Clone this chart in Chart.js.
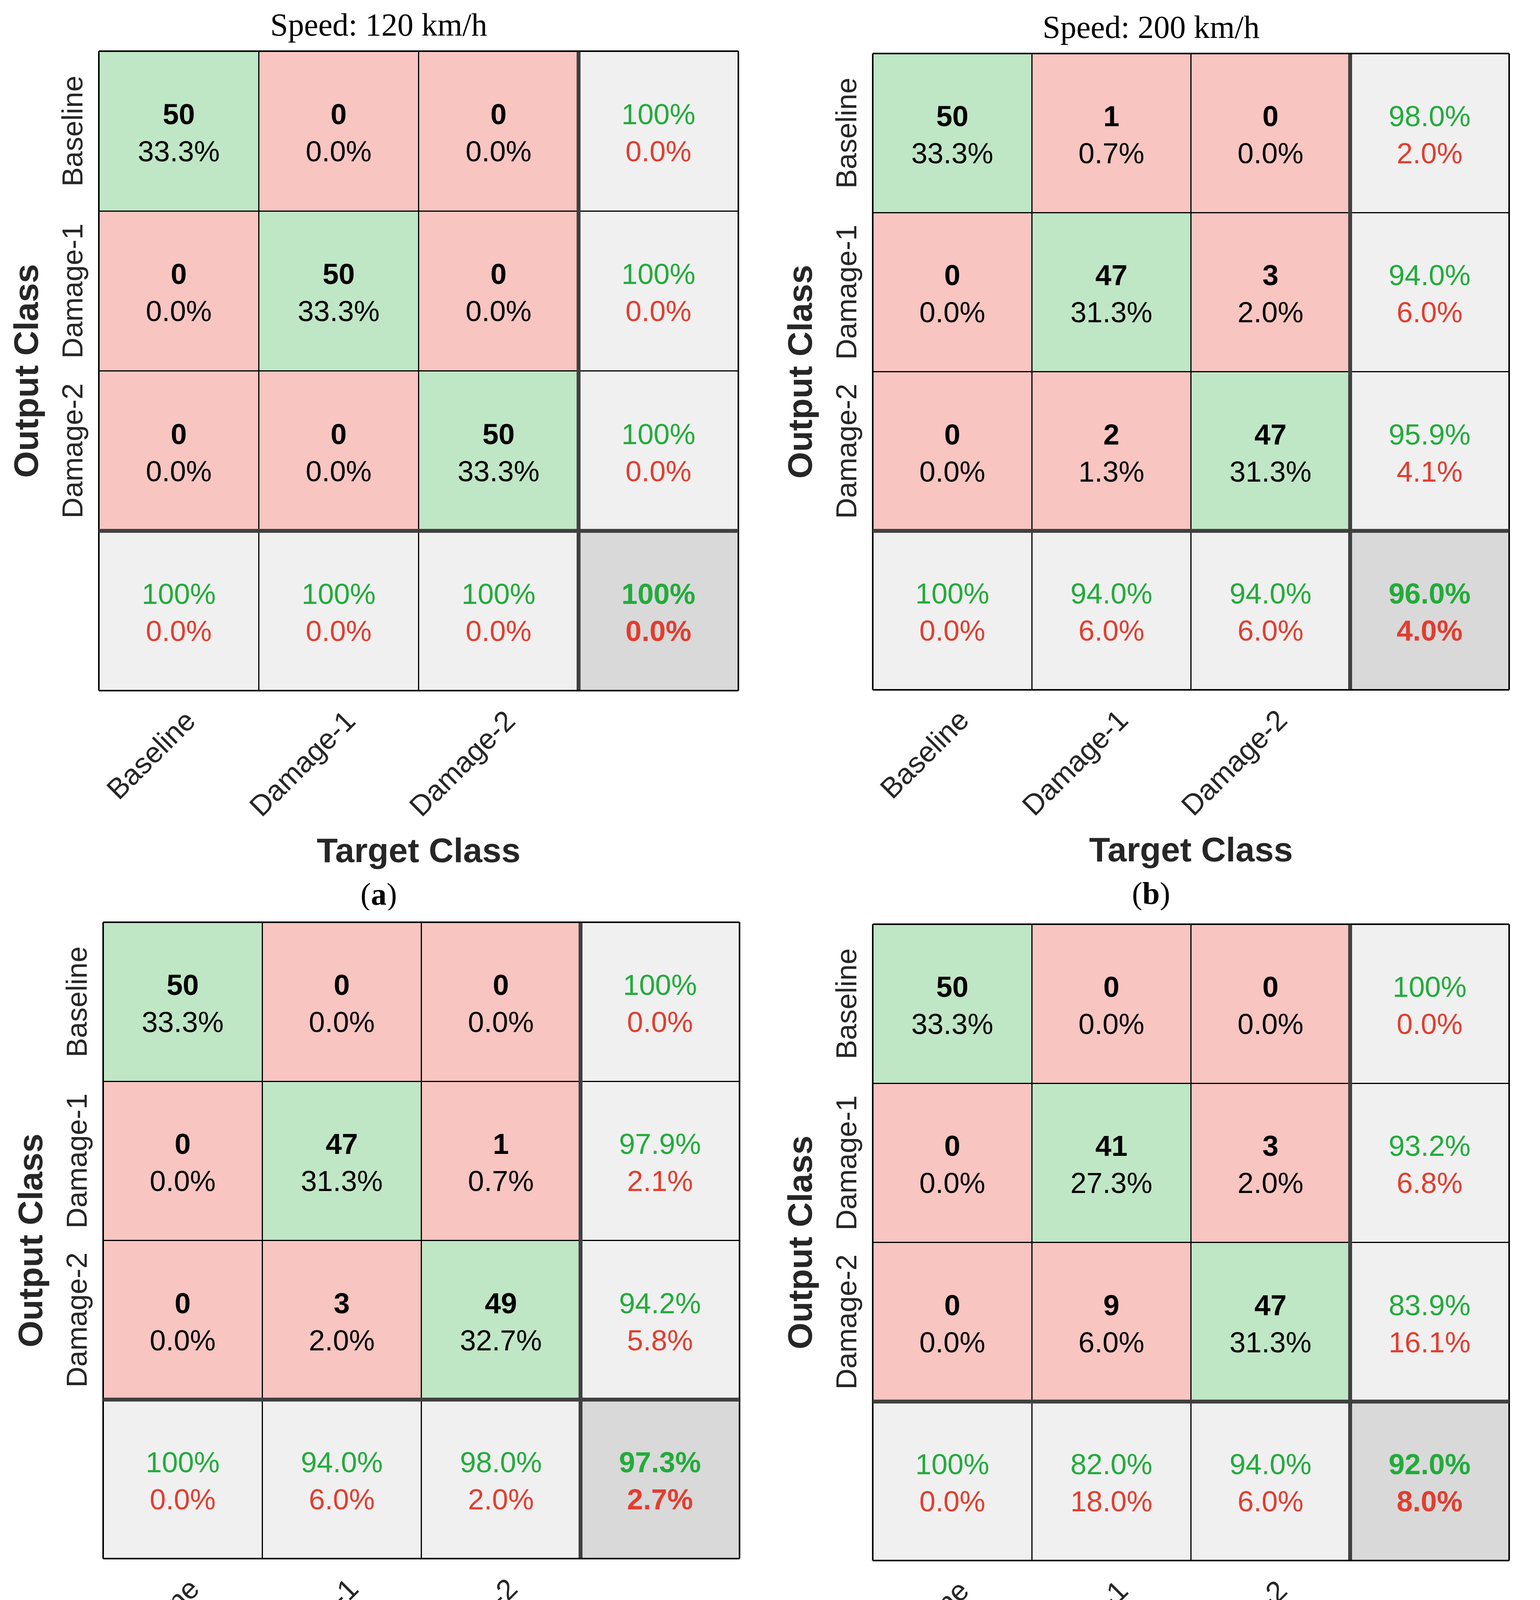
<!DOCTYPE html>
<html>
<head>
<meta charset="utf-8">
<script src="https://cdn.jsdelivr.net/npm/chart.js@4.4.1/dist/chart.umd.min.js"></script>
<style>
  html, body { margin: 0; padding: 0; background: #ffffff; width: 3942px; height: 4583px; overflow: hidden; }
  .panel { position: absolute; }
  .panel canvas { display: block; }
</style>
</head>
<body>
<div class="panel" style="left:0px;top:0px;width:1971px;height:2330px"><canvas id="cA" width="1971" height="2330"></canvas></div>
<div class="panel" style="left:1971px;top:0px;width:1971px;height:2330px"><canvas id="cB" width="1971" height="2330"></canvas></div>
<div class="panel" style="left:0px;top:2330px;width:1971px;height:2253px"><canvas id="cC" width="1971" height="2253"></canvas></div>
<div class="panel" style="left:1971px;top:2330px;width:1971px;height:2253px"><canvas id="cD" width="1971" height="2253"></canvas></div>
<script>
// ---------------- DATA ----------------
const classes = ['Baseline', 'Damage-1', 'Damage-2'];
const columnKeys = ['Baseline', 'Damage-1', 'Damage-2', 'Summary'];
const panelTitles = ['Speed: 120 km/h', 'Speed: 200 km/h', '', ''];
const panelCaptions = ['a', 'b', 'c', 'd'];
const xAxisTitle = 'Target Class';
const yAxisTitle = 'Output Class';

// counts: rows = output class, columns = target class
const countsA = [[50, 0, 0], [0, 50, 0], [0, 0, 50]];
const countsB = [[50, 1, 0], [0, 47, 3], [0, 2, 47]];
const countsC = [[50, 0, 0], [0, 47, 1], [0, 3, 49]];
const countsD = [[50, 0, 0], [0, 41, 3], [0, 9, 47]];

// cell percentages (of all 150 samples)
const cellPctA = [[33.3, 0.0, 0.0], [0.0, 33.3, 0.0], [0.0, 0.0, 33.3]];
const cellPctB = [[33.3, 0.7, 0.0], [0.0, 31.3, 2.0], [0.0, 1.3, 31.3]];
const cellPctC = [[33.3, 0.0, 0.0], [0.0, 31.3, 0.7], [0.0, 2.0, 32.7]];
const cellPctD = [[33.3, 0.0, 0.0], [0.0, 27.3, 2.0], [0.0, 6.0, 31.3]];

// right column (per output class), bottom row (per target class), overall
const rowPctA = [100, 100, 100];
const rowPctB = [98.0, 94.0, 95.9];
const rowPctC = [100, 97.9, 94.2];
const rowPctD = [100, 93.2, 83.9];
const colPctA = [100, 100, 100];
const colPctB = [100, 94.0, 94.0];
const colPctC = [100, 94.0, 98.0];
const colPctD = [100, 82.0, 94.0];
const overallPct = [100, 96.0, 97.3, 92.0];

// ---------------- STYLE / LAYOUT ----------------
const COLORS = {
  good: '#BFE6C5', bad: '#F8C5C1', summary: '#F0F0F0', corner: '#D9D9D9',
  thin: '#000000', thick: '#404040', textGreen: '#22AB3B', textRed: '#E23D2F',
  label: '#262626', text: '#000000'
};
const SANS = '"Liberation Sans", Arial, Helvetica, sans-serif';
const SERIF = '"Liberation Serif", "Times New Roman", serif';

const layouts = [
  { el: 'cA', pad: { left: 253, top: 131, right: 81, bottom: 562 } },
  { el: 'cB', pad: { left: 263, top: 137, right: 79, bottom: 564 } },
  { el: 'cC', pad: { left: 264, top: 31, right: 78, bottom: 593 } },
  { el: 'cD', pad: { left: 263, top: 36, right: 79, bottom: 588 } }
];

const panels = [
  { counts: countsA, cellPct: cellPctA, rowPct: rowPctA, colPct: colPctA },
  { counts: countsB, cellPct: cellPctB, rowPct: rowPctB, colPct: colPctB },
  { counts: countsC, cellPct: cellPctC, rowPct: rowPctC, colPct: colPctC },
  { counts: countsD, cellPct: cellPctD, rowPct: rowPctD, colPct: colPctD }
];

function fmtPct(v) { return (v === 100 ? '100' : v.toFixed(1)) + '%'; }
function fmtMiss(v) { return (100 - v).toFixed(1) + '%'; }

function cellColor(r, c) {
  if (r === 3 && c === 3) return COLORS.corner;
  if (r === 3 || c === 3) return COLORS.summary;
  return r === c ? COLORS.good : COLORS.bad;
}

function makePlugin(i) {
  const P = panels[i];
  return {
    id: 'confusionText' + i,
    afterDraw(chart) {
      const ctx = chart.ctx;
      const xs = chart.scales.x, ys = chart.scales.y;
      const area = chart.chartArea;
      const midX = (area.left + area.right) / 2;
      const midY = (area.top + area.bottom) / 2;
      ctx.save();

      // thick vertical separator before summary column (on top of horizontal lines)
      const xb = (xs.getPixelForValue(2) + xs.getPixelForValue(3)) / 2;
      ctx.fillStyle = COLORS.thick;
      ctx.fillRect(Math.round(xb) - 5, area.top + 2, 10, area.bottom - area.top - 4);

      // cell texts
      ctx.textAlign = 'center';
      ctx.textBaseline = 'alphabetic';
      for (let r = 0; r < 4; r++) {
        for (let c = 0; c < 4; c++) {
          const cx = xs.getPixelForValue(c);
          const cy = ys.getPixelForValue(r + 0.5);
          if (r < 3 && c < 3) {
            ctx.font = 'bold 74px ' + SANS; ctx.fillStyle = COLORS.text;
            ctx.fillText(String(P.counts[r][c]), cx, cy - 17.5);
            ctx.font = '74px ' + SANS;
            ctx.fillText(P.cellPct[r][c].toFixed(1) + '%', cx, cy + 77.5);
            continue;
          }
          let v, bold = false;
          if (r < 3) v = P.rowPct[r];
          else if (c < 3) v = P.colPct[c];
          else { v = overallPct[i]; bold = true; }
          ctx.font = (bold ? 'bold ' : '') + '74px ' + SANS;
          ctx.fillStyle = COLORS.textGreen; ctx.fillText(fmtPct(v), cx, cy - 17.5);
          ctx.fillStyle = COLORS.textRed; ctx.fillText(fmtMiss(v), cx, cy + 77.5);
        }
      }

      // row tick labels (rotated)
      ctx.fillStyle = COLORS.label;
      ctx.font = '74px ' + SANS;
      for (let r = 0; r < 3; r++) {
        const cy = ys.getPixelForValue(r + 0.5);
        ctx.save();
        ctx.translate(area.left - 42, cy);
        ctx.rotate(-Math.PI / 2);
        ctx.textAlign = 'center';
        ctx.fillText(classes[r], 0, 0);
        ctx.restore();
      }
      // column tick labels (45 degrees)
      for (let c = 0; c < 3; c++) {
        const cx = xs.getPixelForValue(c);
        ctx.save();
        ctx.translate(cx + 47, area.bottom + 82);
        ctx.rotate(-Math.PI / 4);
        ctx.textAlign = 'right';
        ctx.fillText(classes[c], 0, 0);
        ctx.restore();
      }
      // axis titles
      ctx.font = 'bold 88px ' + SANS;
      ctx.textAlign = 'center';
      ctx.fillText(xAxisTitle, midX, area.bottom + 439);
      ctx.save();
      ctx.translate(area.left - 156, midY);
      ctx.rotate(-Math.PI / 2);
      ctx.fillText(yAxisTitle, 0, 0);
      ctx.restore();

      // panel title
      const tx = midX - 102;
      ctx.fillStyle = '#000000';
      if (panelTitles[i]) {
        ctx.font = '82px ' + SERIF;
        ctx.fillText(panelTitles[i], tx, area.top - 40);
      }
      // caption "(x)" with bold letter
      const regular = '80px ' + SERIF, boldF = 'bold 80px ' + SERIF;
      ctx.font = regular; const wp = ctx.measureText('(').width; const wq = ctx.measureText(')').width;
      ctx.font = boldF; const wl = ctx.measureText(panelCaptions[i]).width;
      const x0 = tx - (wp + wl + wq) / 2;
      const yb = area.bottom + 548;
      ctx.textAlign = 'left';
      ctx.font = regular; ctx.fillText('(', x0, yb);
      ctx.font = boldF; ctx.fillText(panelCaptions[i], x0 + wp, yb);
      ctx.font = regular; ctx.fillText(')', x0 + wp + wl, yb);
      ctx.restore();
    }
  };
}

function buildChart(i) {
  const L = layouts[i];
  const datasets = [];
  for (let r = 0; r < 4; r++) {
    datasets.push({
      label: r < 3 ? classes[r] : 'Summary',
      data: columnKeys.map(() => [r, r + 1]),
      backgroundColor: columnKeys.map((k, c) => cellColor(r, c)),
      borderWidth: 0,
      barPercentage: 1,
      categoryPercentage: 1,
      grouped: false
    });
  }
  return new Chart(document.getElementById(L.el), {
    type: 'bar',
    data: { labels: columnKeys, datasets },
    options: {
      responsive: false,
      devicePixelRatio: 1,
      animation: false,
      events: [],
      layout: { padding: L.pad, autoPadding: false },
      plugins: { legend: { display: false }, tooltip: { enabled: false }, title: { display: false } },
      scales: {
        x: {
          type: 'category', offset: true,
          border: { display: false },
          ticks: { display: false },
          grid: {
            z: 1,
            offset: true, drawTicks: false,
            lineWidth: (ctx) => (ctx.index === undefined || ctx.index === 0) ? 4 : (ctx.index === 3 ? 10 : 3),
            color: (ctx) => ctx.index === 3 ? COLORS.thick : COLORS.thin
          }
        },
        y: {
          type: 'linear', min: 0, max: 4, reverse: true,
          border: { display: false },
          ticks: { display: false, stepSize: 1 },
          grid: {
            z: 2,
            drawTicks: false,
            lineWidth: (ctx) => (ctx.tick && ctx.tick.value === 3) ? 10 : ((ctx.tick && (ctx.tick.value === 0 || ctx.tick.value === 4)) ? 4 : 3),
            color: (ctx) => (ctx.tick && ctx.tick.value === 3) ? COLORS.thick : COLORS.thin
          }
        }
      }
    },
    plugins: [makePlugin(i)]
  });
}

for (let i = 0; i < 4; i++) buildChart(i);
</script>
</body>
</html>
